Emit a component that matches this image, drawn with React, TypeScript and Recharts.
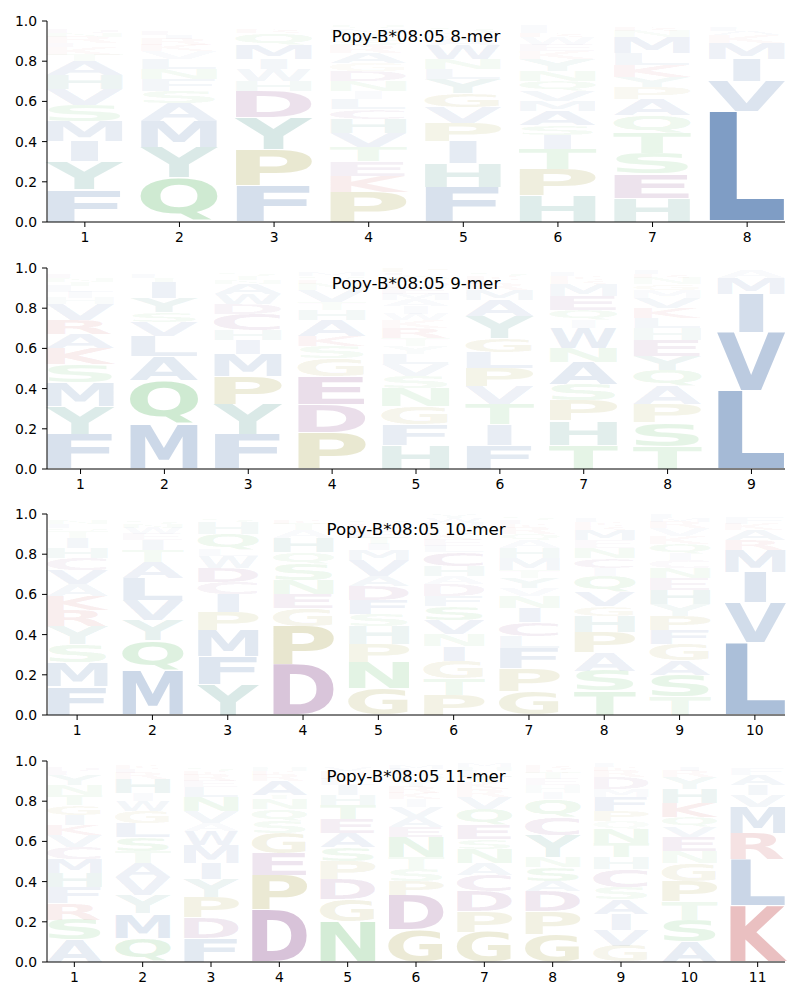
import React from "react"
import { BarChart, Bar, XAxis, YAxis } from "recharts"

const title = "Popy-B*08:05"

// one string per position, letters from bottom to top, value in percent
const mer8 = [
  "F16 Y14 I10 M10 S8 V8 H7 A7 T3 K4 E2 R3 N2 D2 Q1 W1 G1 C1",
  "Q22 Y15 M13 A9 S6 F6 N5 L5 V4 K3 R3 I2 E2 T1 H1 D1 G1 C1",
  "F18 P18 Y16 D13 H5 W6 I5 M7 Q6 R2 K1 E1 S1 A1",
  "P15 K8 E7 T7 V7 H7 C5 L5 I4 N5 D5 G4 A5 R4 S3 Y3 M2 Q2 F1 W1",
  "F17 H12 I11 P9 V8 G7 Y7 L5 N5 W7 A3 C2 Q2 S2 T1 K1 R1",
  "H13 P13 T10 I7 S5 A7 M5 V5 Q5 N5 Y6 K4 E3 W4 R2 F2 L2 G1 D1",
  "H12 E12 S10 T10 Q9 A8 P6 Y5 K6 L6 M8 N3 R2 W1 G1 F1",
  "L55 V15 I11 M8 K4 A2 F2 Y1 T1 R1",
]

const mer9 = [
  "F17 Y14 M12 S9 K8 A7 R7 V8 H3 I3 L3 T2 N2 E2 D1 Q1 G1",
  "M22 Q22 A12 L10 V7 S5 Y7 I8 T2 F2 E1 K1 R1",
  "F17 Y15 P14 M11 I7 H5 C8 D5 W5 A5 N2 T2 S2 K1 E1",
  "P18 D14 E14 G9 S6 K5 A8 H5 T4 V6 N3 R2 Q2 M2 F1 L1",
  "H12 F10 G9 N9 S6 V6 L5 Y4 T4 R5 K4 W3 I4 A3 M3 E3 D3 Q3 C2 P2",
  "F12 I10 T10 V9 P9 L8 G7 Y11 A8 M5 R3 E2 K2 S2 N1 Q1",
  "T12 H12 P10 S8 A11 N7 W10 I4 Q5 E7 M6 R2 K2 F2 L1 D1",
  "T11 S12 P9 A9 Q8 Y7 E8 H6 L5 K5 V5 M4 G3 N3 R2 F2 D1",
  "L39 V29 I19 M8 A4 F1",
]

const mer10 = [
  "F14 M12 S9 Y9 R8 K7 A6 V7 C6 H5 I5 T3 Q2 L2 N2 E1 D1 G1",
  "M22 Q15 Y10 V10 L11 A8 T6 I5 E3 W3 N2 S2 F1 R1 K1",
  "Y15 F14 M13 P9 I9 C6 D7 W6 L3 Q8 H6 S2 E1 R1",
  "D25 P19 G9 E7 N7 S8 Q6 H7 A4 T3 K2 R1 L1 V1",
  "G13 N13 P9 H9 S6 F7 D7 A5 V8 M5 I3 T3 E3 K2 R2 Q2 L1 C1 Y1",
  "P10 T8 G9 I7 N6 V7 S7 F5 D6 A4 H5 C7 L3 E3 K3 R2 Q2 M2 W2 Y2",
  "G12 P11 F10 L6 C7 I7 N6 V4 Y5 T4 M6 H5 A4 Q3 R3 K2 E2 S2 D1",
  "T12 S10 A9 P10 H8 G5 V7 Q8 I4 C5 N5 E4 M5 R2 K2 L2 D1 Y1",
  "T9 S11 A7 G8 F7 P7 Y6 H7 E6 N5 C4 I3 Q5 K4 V4 R3 M2 L2",
  "L36 V20 I15 M11 R5 A5 K3 F3 T1 Y1",
]

const mer11 = [
  "A11 S10 R8 F8 H7 M7 C6 V6 K5 I5 G5 T5 N5 Y5 E2 D2 Q1 L1 P1",
  "Q12 M12 Y9 V9 A7 T6 S7 L7 G6 W5 I4 H7 R3 E2 K2 F1 N1",
  "F12 D10 P10 Y9 I8 M9 W7 A4 V6 N7 L5 E3 R3 K2 S2 T1 Q1 G1",
  "D26 P17 E11 G10 S6 Q6 N5 T2 A7 R3 K2 H2 L1 V1 M1",
  "N20 G11 D10 P9 S7 A7 E7 T7 H5 I5 L3 K2 R2 V2 F1 M1 Y1",
  "G16 D17 P7 S6 T6 N10 E5 A5 V5 I4 K3 R3 Y3 Q3 L3 M2 H1 F1",
  "G15 P10 D10 C8 A6 N7 S5 E7 Q8 V6 R4 K3 T3 L3 H2 M2 I1",
  "G14 P11 D10 A5 S7 N5 Y11 C9 Q9 I3 H4 E3 T3 K2 R2 L1 M1",
  "G8 V8 I8 A7 S6 C9 H6 T7 N7 Q4 P5 F7 M4 D6 R3 K2 L2 E1",
  "A10 S11 T9 P10 G9 N6 E7 V5 Q5 K7 H7 Y6 R3 I2 M1 D1 F1",
  "K28 L23 R13 M13 V6 I5 A5 F3 T1 Y1 Q1 S1",
]

const yTicks = [0, 0.2, 0.4, 0.6, 0.8, 1.0]

const colorOf: Record<string, string> = {
  A: "#4a74ad", V: "#4a74ad", L: "#4a74ad", I: "#4a74ad", M: "#4a74ad", F: "#4a74ad", W: "#4a74ad",
  H: "#3f8f84", Y: "#3f8f84",
  S: "#55b65e", T: "#55b65e", N: "#55b65e", Q: "#55b65e",
  P: "#a09a38", G: "#a09a38",
  D: "#8a4a8c", E: "#8a4a8c", C: "#8a4a8c",
  K: "#c44e52", R: "#c44e52",
}

// rough ink box of DejaVu Sans Bold glyphs, in em: left bearing, ink width, bottom, top
const ink: Record<string, [number, number, number, number]> = {
  A: [0.01, 0.755, 0, 0.729], C: [0.055, 0.63, -0.014, 0.743], D: [0.09, 0.69, 0, 0.729],
  E: [0.09, 0.53, 0, 0.729], F: [0.09, 0.52, 0, 0.729], G: [0.055, 0.71, -0.014, 0.743],
  H: [0.09, 0.655, 0, 0.729], I: [0.09, 0.19, 0, 0.729], K: [0.09, 0.69, 0, 0.729],
  L: [0.09, 0.52, 0, 0.729], M: [0.09, 0.815, 0, 0.729], N: [0.09, 0.655, 0, 0.729],
  P: [0.09, 0.6, 0, 0.729], Q: [0.055, 0.74, -0.18, 0.743], R: [0.09, 0.68, 0, 0.729],
  S: [0.055, 0.61, -0.014, 0.743], T: [0.01, 0.66, 0, 0.729], V: [0.01, 0.755, 0, 0.729],
  W: [0.02, 1.06, 0, 0.729], Y: [0.0, 0.725, 0, 0.729],
}

const FS = 100
const VPAD = 0.03

function buildRows(cols: string[]) {
  const slots = Math.max(...cols.map((c) => c.split(" ").length))
  const rows = cols.map((c, i) => {
    const row: any = { pos: i + 1 }
    const toks = c.split(" ")
    for (let j = 0; j < slots; j++) {
      const t = toks[j]
      row[`l${j}`] = t ? t[0] : ""
      row[`h${j}`] = t ? Number(t.slice(1)) / 100 : 0
    }
    return row
  })
  return { rows, slots }
}

const letterShape = (slot: number) => (props: any) => {
  const { x, y, width, height, payload } = props
  const ch = payload[`l${slot}`]
  const h = payload[`h${slot}`]
  if (!ch || !(height > 0.05)) return <g />
  const [lsb, w, b, t] = ink[ch]
  const sx = Math.min(width / (w * FS), width / (ink.E[1] * FS))
  const inkW = w * FS * sx
  const tx = x + (width - inkW) / 2 - lsb * FS * sx
  const gh = height * (1 - VPAD)
  const sy = gh / ((t - b) * FS)
  const bottom = y + height - (height * VPAD) / 2
  const baseY = bottom + b * FS * sy
  return (
    <text
      x={0}
      y={0}
      transform={`translate(${tx} ${baseY}) scale(${sx} ${sy})`}
      fontSize={FS}
      fontFamily="DejaVu Sans"
      fontWeight="bold"
      fill={colorOf[ch]}
      fillOpacity={Math.min(1, 1.28 * h)}
    >
      {ch}
    </text>
  )
}

const tickStyle = { fontFamily: "DejaVu Sans", fontSize: 13.9, fill: "#000" }

function LogoPanel({ cols, k, top }: { cols: string[]; k: number; top: number }) {
  const { rows, slots } = buildRows(cols)
  const unit = 738 / (k - 0.2)
  const xTicks = rows.map((r) => r.pos)
  return (
    <div style={{ position: "absolute", left: 0, top: top - 10, width: 800, height: 241 }}>
      <BarChart
        width={800}
        height={241}
        data={rows}
        margin={{ top: 10, right: 15, bottom: 0, left: 0 }}
        barCategoryGap="10%"
      >
        <XAxis
          dataKey="pos"
          type="number"
          domain={[0.6, k + 0.4]}
          ticks={xTicks}
          interval={0}
          height={30}
          tick={tickStyle}
          tickSize={5}
          tickMargin={5}
          stroke="#000"
        />
        <YAxis
          domain={[0, 1]}
          ticks={yTicks}
          width={47}
          allowDataOverflow
          tick={tickStyle}
          tickSize={5}
          tickMargin={5}
          tickFormatter={(v: number) => v.toFixed(1)}
          stroke="#000"
        />
        {Array.from({ length: slots }, (_, j) => (
          <Bar
            key={j}
            dataKey={`h${j}`}
            stackId="s"
            barSize={unit * 0.8}
            isAnimationActive={false}
            shape={letterShape(j)}
          />
        ))}
      </BarChart>
      <div
        style={{
          position: "absolute",
          left: 47,
          width: 738,
          top: 16,
          textAlign: "center",
          fontFamily: "DejaVu Sans",
          fontSize: 16.7,
          lineHeight: "18px",
          color: "#000",
        }}
      >
        {`${title} ${k}-mer`}
      </div>
    </div>
  )
}

export default function App() {
  return (
    <div style={{ position: "absolute", left: 0, top: 0, width: 800, height: 1000, background: "#fff" }}>
      <LogoPanel cols={mer8} k={8} top={21} />
      <LogoPanel cols={mer9} k={9} top={268} />
      <LogoPanel cols={mer10} k={10} top={514} />
      <LogoPanel cols={mer11} k={11} top={761} />
    </div>
  )
}
